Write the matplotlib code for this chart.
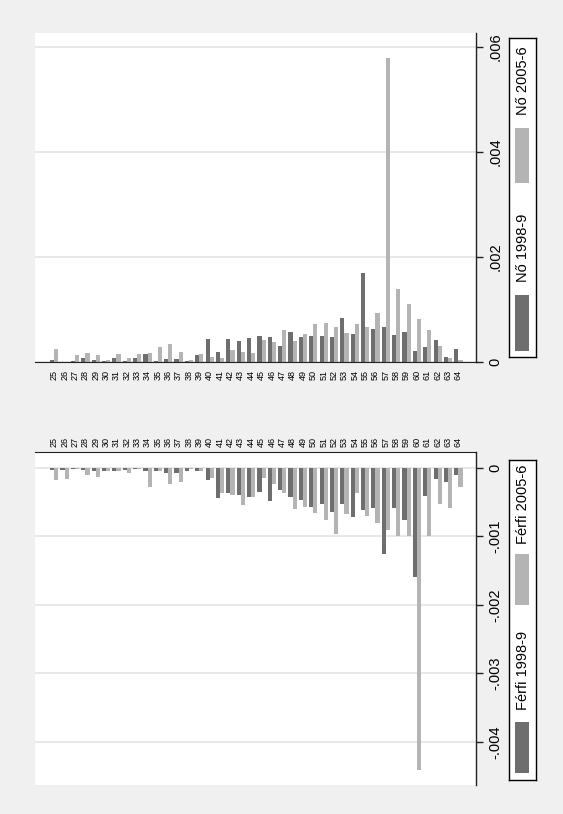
import numpy as np
import matplotlib.pyplot as plt
from matplotlib.patches import Rectangle

plt.rcParams['font.family'] = ['Liberation Sans', 'DejaVu Sans']

ages = list(range(25, 65))

# nők
no_1998 = [0.00003, 0.0, 0.00002, 0.00008, 0.00004, 0.00002, 0.00008, 0.00002, 0.00008, 0.00015,
           0.00001, 0.00006, 0.00006, 0.00001, 0.00013, 0.00044, 0.00020, 0.00043, 0.00040, 0.00046,
           0.00049, 0.00047, 0.00031, 0.00058, 0.00047, 0.00049, 0.00049, 0.00047, 0.00083, 0.00054,
           0.00169, 0.00063, 0.00067, 0.00051, 0.00058, 0.00021, 0.00028, 0.00042, 0.00010, 0.00024]
no_2005 = [0.00025, 0.0, 0.00013, 0.00018, 0.00013, 0.00004, 0.00015, 0.00008, 0.00015, 0.00017,
           0.00029, 0.00034, 0.00020, 0.00004, 0.00015, 0.00010, 0.00008, 0.00022, 0.00020, 0.00018,
           0.00042, 0.00038, 0.00061, 0.00040, 0.00054, 0.00072, 0.00074, 0.00067, 0.00056, 0.00072,
           0.00067, 0.00093, 0.00579, 0.00139, 0.00111, 0.00081, 0.00061, 0.00030, 0.00008, 0.00004]

# férfiak
ferfi_1998 = [-0.00003, -0.00003, -0.00002, -0.00003, -0.00005, -0.00004, -0.00004, -0.00003, -0.00002, -0.00004,
              -0.00004, -0.00008, -0.00007, -0.00004, -0.00004, -0.00017, -0.00044, -0.00036, -0.00040, -0.00042,
              -0.00035, -0.00048, -0.00032, -0.00042, -0.00046, -0.00057, -0.00052, -0.00064, -0.00053, -0.00071,
              -0.00061, -0.00059, -0.00126, -0.00059, -0.00076, -0.00159, -0.00041, -0.00016, -0.00021, -0.00010]
ferfi_2005 = [-0.00017, -0.00016, -0.00001, -0.00010, -0.00013, -0.00004, -0.00004, -0.00007, -0.00001, -0.00028,
              -0.00004, -0.00024, -0.00021, -0.00002, -0.00004, -0.00015, -0.00036, -0.00040, -0.00054, -0.00042,
              -0.00015, -0.00023, -0.00036, -0.00060, -0.00057, -0.00065, -0.00076, -0.00097, -0.00067, -0.00037,
              -0.00070, -0.00080, -0.00091, -0.00100, -0.00100, -0.00441, -0.00100, -0.00053, -0.00059, -0.00028]

dark = '#6e6e6e'
light = '#b4b4b4'
bg = '#f0f0f0'
W, H = 563, 814

fig = plt.figure(figsize=(W / 100, H / 100), dpi=100, facecolor=bg)
ax_top = fig.add_axes([35 / W, 1 - 362 / H, 441 / W, 329 / H])
ax_bot = fig.add_axes([35 / W, 1 - 785 / H, 441 / W, 333 / H])

x = np.arange(len(ages))
for ax, d, l in [(ax_top, no_1998, no_2005), (ax_bot, ferfi_1998, ferfi_2005)]:
    ax.bar(x - 0.2, d, width=0.4, color=dark, linewidth=0, zorder=2)
    ax.bar(x + 0.2, l, width=0.4, color=light, linewidth=0, zorder=2)
    ax.set_xlim(-1.86, 40.7)
    ax.set_xticks(x)
    ax.set_xticklabels([str(a) for a in ages])
    ax.yaxis.tick_right()
    ax.yaxis.grid(True, color='#e6e6e6', linewidth=1.3, zorder=0)
    ax.set_axisbelow(True)
    ax.spines['left'].set_visible(False)
    ax.spines['right'].set_color('#222222')
    ax.spines['right'].set_linewidth(1.0)
    ax.tick_params(axis='y', direction='out', length=5, width=1, pad=4,
                   labelrotation=90, labelsize=10.5, color='#222222')
    ax.tick_params(axis='x', length=0, labelrotation=90, labelsize=6.5)

# felső panel: nők
ax_top.set_ylim(0, 0.00627)
ax_top.set_yticks([0, 0.002, 0.004, 0.006])
ax_top.set_yticklabels(['0', '.002', '.004', '.006'])
ax_top.spines['top'].set_visible(False)
ax_top.spines['bottom'].set_color('#222222')
ax_top.tick_params(axis='x', pad=5.5)

# alsó panel: férfiak, a korcímkék felül
ax_bot.set_ylim(-0.00463, 0.000234)
ax_bot.set_yticks([-0.004, -0.003, -0.002, -0.001, 0])
ax_bot.set_yticklabels(['-.004', '-.003', '-.002', '-.001', '0'])
ax_bot.spines['bottom'].set_visible(False)
ax_bot.spines['top'].set_color('#222222')
ax_bot.xaxis.tick_top()
ax_bot.tick_params(axis='x', pad=3.5)

for ax in (ax_top, ax_bot):
    for t in ax.get_yticklabels():
        t.set_va('center')


def legend_box(rect, entries):
    lax = fig.add_axes(rect, facecolor='white')
    lax.set_xlim(0, 1)
    lax.set_ylim(0, 1)
    lax.set_xticks([])
    lax.set_yticks([])
    for s in lax.spines.values():
        s.set_color('black')
        s.set_linewidth(1.0)
    for color, label, y0, y1, ty in entries:
        lax.add_patch(Rectangle((0.22, y0), 0.53, y1 - y0, color=color, linewidth=0))
        lax.text(0.52, ty, label, rotation=90, ha='center', va='center', fontsize=10.5)


legend_box([509 / W, 1 - 357 / H, 27 / W, 319 / H],
           [(light, 'Nő 2005-6', 0.545, 0.719, 0.867),
            (dark, 'Nő 1998-9', 0.020, 0.194, 0.342)])
legend_box([509 / W, 1 - 780 / H, 27 / W, 320 / H],
           [(light, 'Férfi 2005-6', 0.547, 0.706, 0.862),
            (dark, 'Férfi 1998-9', 0.023, 0.182, 0.341)])

fig.savefig('out.png', dpi=100, facecolor=bg)
